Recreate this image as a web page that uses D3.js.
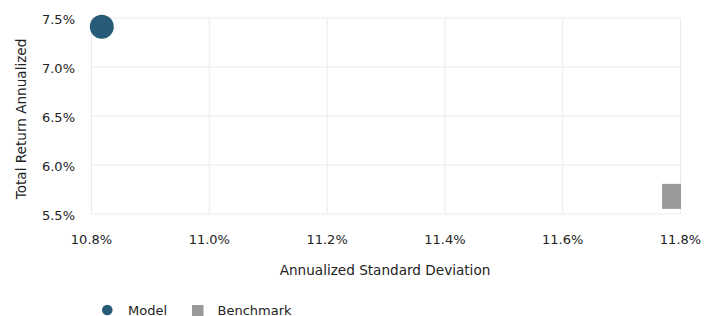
<!DOCTYPE html>
<html>
<head>
<meta charset="utf-8">
<script src="https://d3js.org/d3.v7.min.js"></script>
<style>
  body { margin: 0; background: #fff; }
  svg text { font-family: "DejaVu Sans", Verdana, sans-serif; fill: #222; }
</style>
</head>
<body>
<div id="chart"></div>
<script>
// data
var seriesNames = ["Model", "Benchmark"];
var stdDev = [10.8175, 11.79];      // Annualized Standard Deviation (%)
var totalReturn = [7.41, 5.68];     // Total Return Annualized (%)
var seriesColors = ["#285b78", "#999999"];
var xTicks = [10.8, 11.0, 11.2, 11.4, 11.6, 11.8];
var yTicks = [5.5, 6.0, 6.5, 7.0, 7.5];

var width = 714, height = 316;
var margin = {left: 91.5, right: 33.5, top: 18, bottom: 102};

var svg = d3.select("#chart").append("svg")
    .attr("width", width)
    .attr("height", height);

var x = d3.scaleLinear().domain([10.8, 11.8]).range([margin.left, width - margin.right]);
var y = d3.scaleLinear().domain([5.5, 7.5]).range([height - margin.bottom, margin.top]);

// grid
svg.append("g").selectAll("line").data(xTicks).enter().append("line")
    .attr("x1", d => x(d)).attr("x2", d => x(d))
    .attr("y1", y(7.5)).attr("y2", y(5.5))
    .attr("stroke", "#ebebeb").attr("stroke-width", 1);
svg.append("g").selectAll("line").data(yTicks).enter().append("line")
    .attr("x1", x(10.8)).attr("x2", x(11.8))
    .attr("y1", d => y(d)).attr("y2", d => y(d))
    .attr("stroke", "#ebebeb").attr("stroke-width", 1);

// tick labels
svg.append("g").selectAll("text").data(xTicks).enter().append("text")
    .attr("x", d => x(d)).attr("y", 243.5)
    .attr("text-anchor", "middle")
    .style("font-size", "13px")
    .text(d => d.toFixed(1) + "%");
svg.append("g").selectAll("text").data(yTicks).enter().append("text")
    .attr("x", 75).attr("y", d => y(d) + 6)
    .attr("text-anchor", "end")
    .style("font-size", "13px")
    .text(d => d.toFixed(1) + "%");

// axis titles
svg.append("text")
    .attr("x", 385).attr("y", 275)
    .attr("text-anchor", "middle")
    .style("font-size", "13.6px")
    .text("Annualized Standard Deviation");
svg.append("text")
    .attr("transform", "translate(25.5,119) rotate(-90)")
    .attr("text-anchor", "middle")
    .style("font-size", "13.6px")
    .text("Total Return Annualized");

// clip on right edge of plot
svg.append("clipPath").attr("id", "clip")
  .append("rect").attr("x", 0).attr("y", 0)
    .attr("width", x(11.8) + 0.5).attr("height", height);

var pts = svg.append("g").attr("clip-path", "url(#clip)");
// Model
pts.append("circle")
    .attr("cx", x(stdDev[0])).attr("cy", y(totalReturn[0]))
    .attr("r", 12)
    .attr("fill", seriesColors[0]);
// Benchmark
var sq = 25;
pts.append("rect")
    .attr("x", x(stdDev[1]) - sq / 2).attr("y", y(totalReturn[1]) - sq / 2)
    .attr("width", sq).attr("height", sq)
    .attr("fill", seriesColors[1]);

// legend
var legend = svg.append("g");
legend.append("circle").attr("cx", 107.3).attr("cy", 310).attr("r", 5.3).attr("fill", seriesColors[0]);
legend.append("text").attr("x", 128).attr("y", 314.5).style("font-size", "13px").text(seriesNames[0]);
legend.append("rect").attr("x", 192).attr("y", 305).attr("width", 11.5).attr("height", 11).attr("fill", seriesColors[1]);
legend.append("text").attr("x", 217.5).attr("y", 314.5).style("font-size", "13px").text(seriesNames[1]);
</script>
</body>
</html>
